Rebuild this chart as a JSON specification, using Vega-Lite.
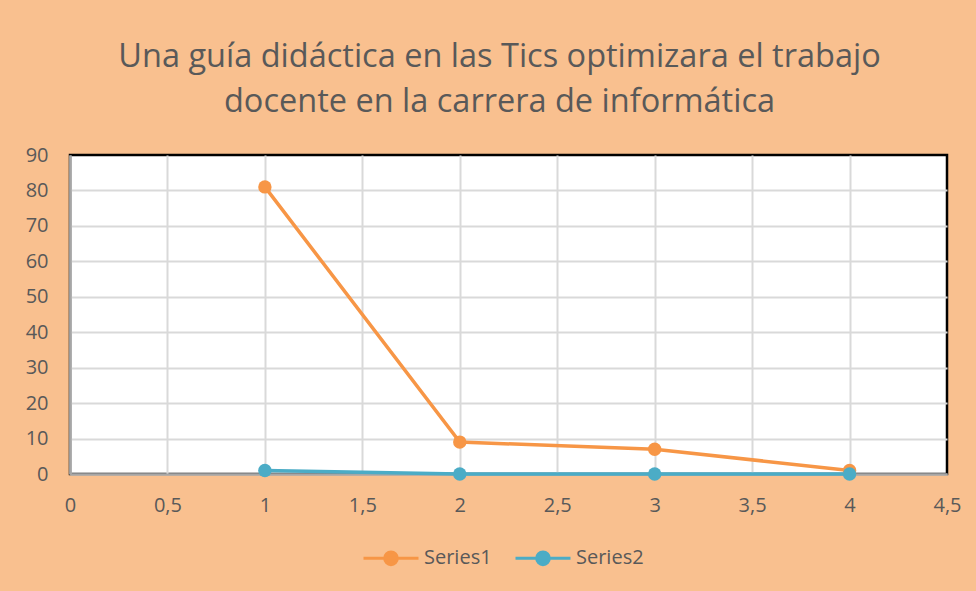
{
  "$schema": "https://vega.github.io/schema/vega-lite/v6.json",
  "autosize": {"type": "none"},
  "width": 877,
  "height": 319,
  "padding": {"left": 70, "top": 155, "right": 29, "bottom": 117},
  "background": "#F9C08F",
  "title": {
    "text": ["Una guía didáctica en las Tics optimizara el trabajo", "docente en la carrera de informática"],
    "font": "Open Sans",
    "fontSize": 32.5,
    "fontWeight": "normal",
    "color": "#595959",
    "anchor": "middle",
    "frame": "group",
    "dx": -9,
    "offset": 27,
    "lineHeight": 45
  },
  "config": {
    "view": {"stroke": "#000000", "strokeWidth": 2.5, "fill": "white"}
  },
  "data": {
    "values": [
      {"x": 1, "y": 81, "series": "Series1"},
      {"x": 2, "y": 9, "series": "Series1"},
      {"x": 3, "y": 7, "series": "Series1"},
      {"x": 4, "y": 1, "series": "Series1"},
      {"x": 1, "y": 1, "series": "Series2"},
      {"x": 2, "y": 0, "series": "Series2"},
      {"x": 3, "y": 0, "series": "Series2"},
      {"x": 4, "y": 0, "series": "Series2"}
    ]
  },
  "encoding": {
    "x": {
      "field": "x",
      "type": "quantitative",
      "title": null,
      "scale": {"domain": [0, 4.5], "nice": false},
      "axis": {
        "values": [0, 0.5, 1, 1.5, 2, 2.5, 3, 3.5, 4, 4.5],
        "labelExpr": "replace(format(datum.value, '.1~f'), '.', ',')",
        "labelFlush": false,
        "labelOverlap": false,
        "labelBound": false,
        "labelPadding": 21,
        "labelFont": "Open Sans",
        "labelFontSize": 20,
        "labelColor": "#595959",
        "gridColor": "#D9D9D9",
        "gridWidth": 2,
        "gridOpacity": {"condition": {"test": "datum.value >= 4.5", "value": 0}, "value": 1},
        "ticks": false,
        "domainColor": "#A6A6A6",
        "domainWidth": 2
      }
    },
    "y": {
      "field": "y",
      "type": "quantitative",
      "title": null,
      "scale": {"domain": [0, 90], "nice": false},
      "axis": {
        "values": [0, 10, 20, 30, 40, 50, 60, 70, 80, 90],
        "labelFlush": false,
        "labelOverlap": false,
        "labelPadding": 22,
        "labelFont": "Open Sans",
        "labelFontSize": 20,
        "labelColor": "#595959",
        "gridColor": "#D9D9D9",
        "gridWidth": 2,
        "gridOpacity": {"condition": {"test": "datum.value >= 90", "value": 0}, "value": 1},
        "ticks": false,
        "domainColor": "#A6A6A6",
        "domainWidth": 2.5
      }
    },
    "color": {
      "field": "series",
      "type": "nominal",
      "scale": {"domain": ["Series1", "Series2"], "range": ["#F79646", "#4BACC6"]},
      "legend": {
        "orient": "none",
        "legendX": 292,
        "legendY": 374,
        "direction": "horizontal",
        "title": null,
        "labelFont": "Open Sans",
        "labelFontSize": 20,
        "labelColor": "#595959",
        "symbolType": "M-1,0H1M0.23,0A0.23,0.23 0 1,1 -0.23,0A0.23,0.23 0 1,1 0.23,0Z",
        "symbolSize": 3025,
        "symbolStrokeWidth": 3,
        "labelOffset": 4,
        "columnPadding": 17,
        "encode": {
          "symbols": {"update": {"fill": {"scale": "color", "field": "value"}, "stroke": {"scale": "color", "field": "value"}, "fillOpacity": {"value": 1}}}
        }
      }
    }
  },
  "layer": [
    {"mark": {"type": "line", "strokeWidth": 3.5}},
    {"mark": {"type": "point", "filled": true, "size": 180, "opacity": 1}}
  ]
}
